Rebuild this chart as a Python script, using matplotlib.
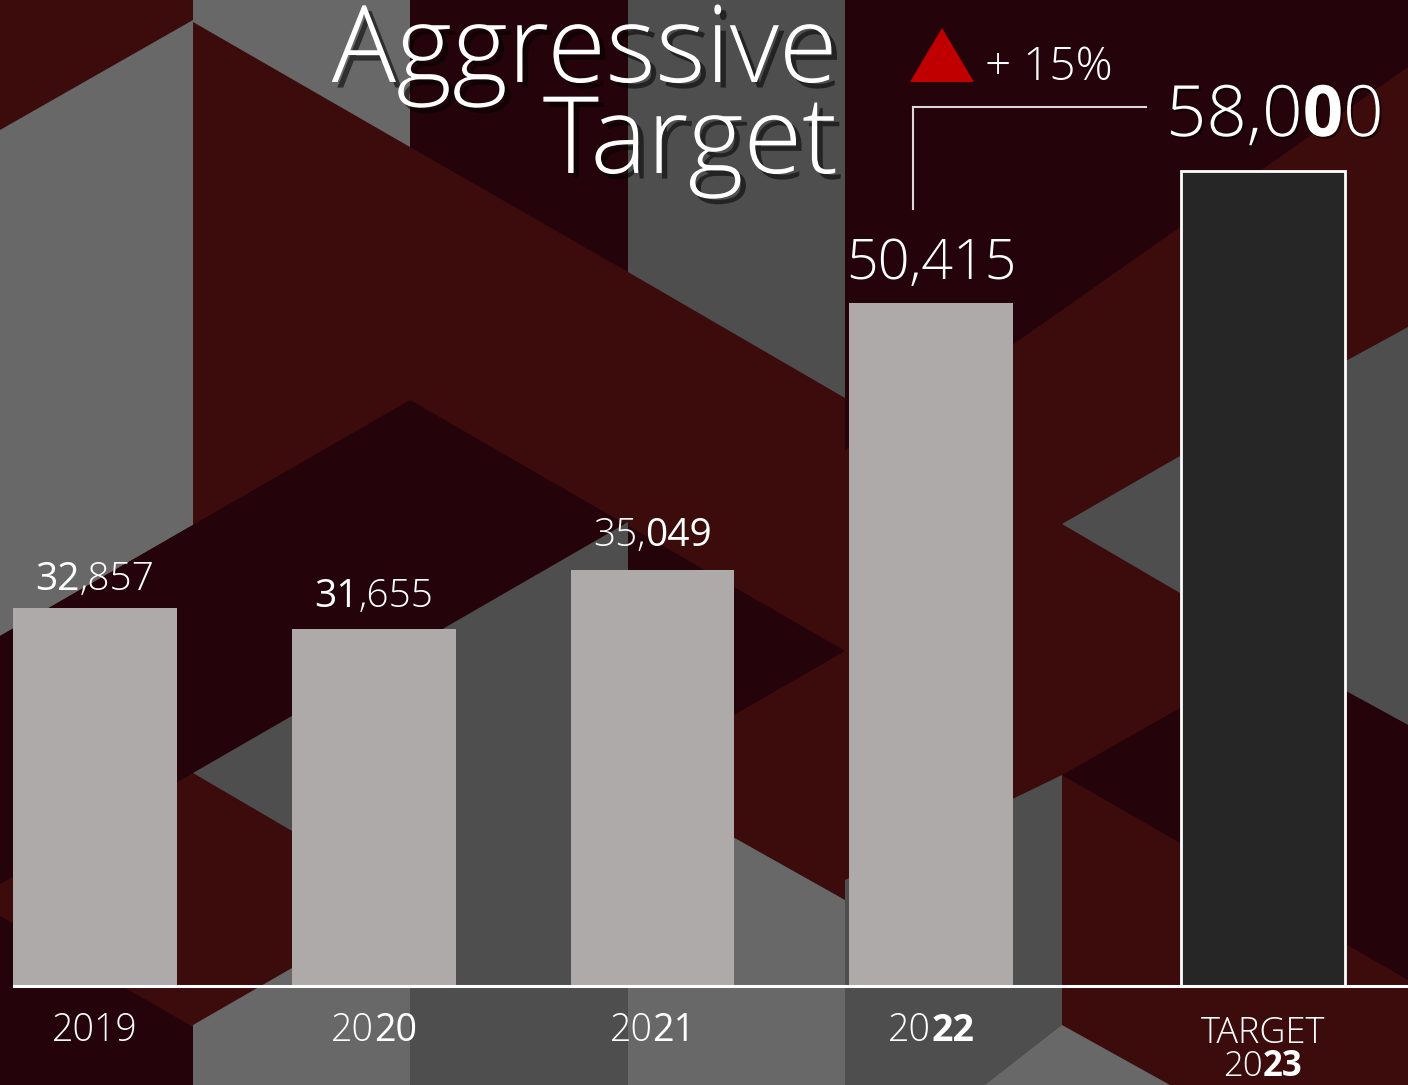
import os
import matplotlib
matplotlib.use('Agg')
import matplotlib.pyplot as plt
from matplotlib.patches import Polygon
from matplotlib import transforms
from matplotlib import patheffects as pe
from matplotlib import font_manager as fm

# pick a family that really ships a Light face (by file name)
files = {os.path.basename(f.fname).lower(): f.fname for f in fm.fontManager.ttflist}
groups = [
    ('opensans-light.ttf', 'opensans-regular.ttf', 'opensans-bold.ttf'),
    ('lato-light.ttf', 'lato-regular.ttf', 'lato-bold.ttf'),
    ('roboto-light.ttf', 'roboto-regular.ttf', 'roboto-bold.ttf'),
]


def font_file(name):
    return fm.FontProperties(fname=files[name]) if name in files else None


FP = None
for g in groups:
    if g[0] in files:
        FP = {'light': font_file(g[0]),
              'normal': font_file(g[1]) or font_file(g[0]),
              'bold': font_file(g[2]) or font_file(g[1]) or font_file(g[0])}
        break
if FP is None:
    FP = {'light': fm.FontProperties(family='Lato'),
          'normal': fm.FontProperties(family='Lato'),
          'bold': fm.FontProperties(family='Lato', weight='bold')}


def fprop(weight, size):
    p = FP[weight].copy()
    p.set_size(size)
    return p


# data
categories = ['2019', '2020', '2021', '2022', '2023']
values = [32857, 31655, 35049, 50415, 58000]
change_label = '+ 15%'
title_lines = ['Aggressive', 'Target']

# label pieces (text, weight) - the original mixes light and heavier digits
value_parts = [
    [('32', 'normal'), (',857', 'light')],
    [('31', 'normal'), (',655', 'light')],
    [('35,', 'light'), ('049', 'normal')],
    [('50,415', 'light')],
    [('58,0', 'light'), ('0', 'bold'), ('0', 'light')],
]
year_parts = [
    [('2019', 'light')],
    [('20', 'light'), ('20', 'normal')],
    [('20', 'light'), ('21', 'normal')],
    [('20', 'light'), ('22', 'bold')],
    [('20', 'light'), ('23', 'bold')],
]

# colours
RED = '#3c0b0b'
MAROON = '#25030a'
G1 = '#686868'
G2 = '#4e4e4e'
BAR = '#aeaaa9'

W, H = 1408, 1085
fig = plt.figure(figsize=(W / 100, H / 100), dpi=100)
fig.patch.set_facecolor(RED)

# background pattern, drawn in pixel coords (y down)
bg = fig.add_axes([0, 0, 1, 1])
bg.set_xlim(0, W)
bg.set_ylim(H, 0)
bg.axis('off')
bg.set_facecolor(RED)

shapes = [
    (G1, [(0, 130), (193, 20), (193, 525), (0, 636)]),
    (G1, [(193, 0), (410, 0), (410, 147), (193, 22)]),
    (MAROON, [(410, 0), (628, 0), (628, 272), (410, 147)]),
    (G2, [(628, 0), (845, 0), (845, 398), (628, 272)]),
    (MAROON, [(845, 0), (W, 0), (W, 67), (988, 362), (845, 450)]),
    (MAROON, [(0, 636), (410, 400), (845, 651), (628, 776), (193, 773), (0, 884)]),
    (G2, [(193, 773), (628, 522), (628, H), (410, H), (410, 900)]),
    (G1, [(193, 1025), (410, 900), (410, H), (193, H)]),
    (MAROON, [(0, 916), (193, 1027), (193, H), (0, H)]),
    (G1, [(628, 778), (845, 900), (845, H), (628, H)]),
    (G2, [(845, 880), (1062, 775), (1062, H), (845, H)]),
    (G1, [(985, H), (1062, 1025), (1062, H)]),
    (G2, [(1062, 524), (1180, 456), (1180, 593)]),
    (MAROON, [(1062, 775), (1180, 708), (1180, 843)]),
    (G1, [(1062, 1025), (1170, H), (1062, H)]),
    (G2, [(1344, 362), (W, 327), (W, 725), (1344, 690)]),
    (MAROON, [(1344, 690), (W, 725), (W, 980), (1344, 943)]),
]
for col, pts in shapes:
    bg.add_patch(Polygon(pts, closed=True, facecolor=col, edgecolor='none'))

# main chart axes: baseline sits 99 px above the bottom edge
ax = fig.add_axes([0, 99 / H, 1, 986 / H])
ax.patch.set_alpha(0)
x_pos = [0, 1, 2, 3, 4.19]
ax.set_xlim(-0.341, 4.711)
ax.set_ylim(11100, 67845)

colors = [BAR] * 4 + ['#262626']
edges = ['none'] * 4 + ['white']
bars = ax.bar(x_pos, values, width=0.588, color=colors, edgecolor=edges,
              linewidth=[0, 0, 0, 0, 2.0], zorder=2)

for s in ['top', 'left', 'right']:
    ax.spines[s].set_visible(False)
ax.spines['bottom'].set_color('white')
ax.spines['bottom'].set_linewidth(2.2)
ax.spines['bottom'].set_bounds(-0.29, 4.711)
ax.spines['bottom'].set_zorder(3)
ax.set_xticks([])
ax.set_yticks([])

renderer = fig.canvas.get_renderer()


def mixed_text(axis, x, y, parts, size, dx_px=0, dy_px=0, base=None, shadow=False):
    base = base if base is not None else axis.transData
    widths = []
    for s, w in parts:
        t = axis.text(0, 0, s, fontproperties=fprop(w, size))
        widths.append(t.get_window_extent(renderer=renderer).width)
        t.remove()
    left = dx_px - sum(widths) / 2
    effects = [pe.withSimplePatchShadow(offset=(1.5, -1.5), shadow_rgbFace='black', alpha=0.5)] if shadow else None
    for (s, w), wd in zip(parts, widths):
        tr = transforms.offset_copy(base, fig=fig, x=left, y=dy_px, units='dots')
        axis.text(x, y, s, transform=tr, ha='left', va='baseline',
                  fontproperties=fprop(w, size), color='white',
                  path_effects=effects, zorder=5)
        left += wd


# value labels above bars (the target label sits a little right of its bar)
label_sizes = [28, 28, 28, 40, 51]
label_gaps = [18, 22, 24, 24, 35]
label_dx = [0, 0, 0, 0, 12]
for xp, v, parts, sz, gap, dx in zip(x_pos, values, value_parts, label_sizes, label_gaps, label_dx):
    mixed_text(ax, xp, v, parts, sz, dx_px=dx, dy_px=gap, shadow=(sz > 40))

# category labels under the baseline
xlab = transforms.blended_transform_factory(ax.transData, ax.transAxes)
for i, (xp, parts) in enumerate(zip(x_pos, year_parts)):
    if i == 4:
        mixed_text(ax, xp, 0, [('TARGET', 'light')], 26, dy_px=-57, base=xlab)
        mixed_text(ax, xp, 0, parts, 25, dy_px=-90, base=xlab)
    else:
        mixed_text(ax, xp, 0, parts, 27, dy_px=-55, base=xlab)

# title (two right-aligned lines, 91 px between baselines) with drop shadow;
# va='baseline' on a two-line text anchors the last line
title_size = 77
tprop = fprop('light', title_size)
_, lp_h, lp_d = renderer.get_text_width_height_descent('lp', tprop, ismath=False)
spacing = (91 - lp_d) / (lp_h - lp_d)
title_fx = [pe.withSimplePatchShadow(offset=(4, -4), shadow_rgbFace='black', alpha=0.55)]
bg.text(838, 173, '\n'.join(title_lines), ha='right', va='baseline',
        multialignment='right', linespacing=spacing,
        fontproperties=tprop, color='white', path_effects=title_fx, zorder=5)

# growth marker
bg.add_patch(Polygon([(910, 82), (974, 82), (942, 28)], closed=True,
                     facecolor='#c00000', edgecolor='none', zorder=5))
bg.text(985, 80, change_label, ha='left', va='baseline',
        fontproperties=fprop('light', 33), color='white', zorder=5)
bg.plot([913, 1146], [107, 107], color='#d9d9d9', lw=1.5, zorder=5)
bg.plot([913, 913], [107, 209], color='#d9d9d9', lw=1.5, zorder=5)

fig.savefig('out.png', dpi=100, facecolor=RED)
